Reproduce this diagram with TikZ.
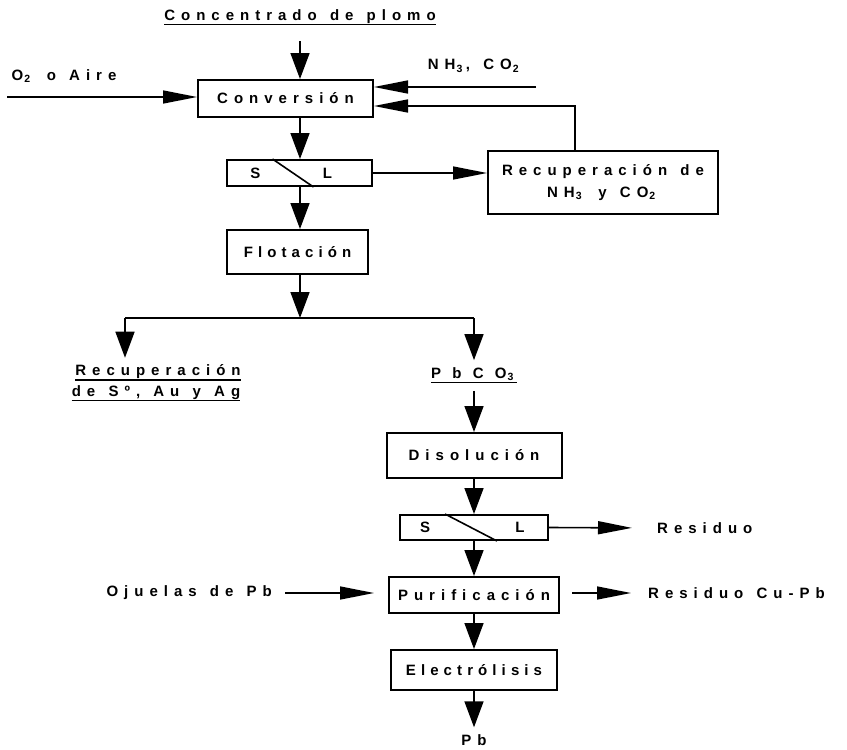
\documentclass[tikz,border=0pt]{standalone}
\usepackage{fontspec}
\setmainfont{Liberation Sans}[LetterSpace=40, WordSpace=1.3]
\usetikzlibrary{arrows.meta}
\newcommand{\ind}[1]{\kern1pt\textsubscript{#1}\kern3pt\relax}
\newcommand{\esp}[2]{{\addfontfeature{LetterSpace=#1}#2}}

\begin{document}
\begin{tikzpicture}
    [x=1pt, y=-1pt,
    caja/.style={draw=black, line width=2pt, inner sep=0pt},
    rotulo/.style={inner sep=0pt},
    flecha/.style={-{Triangle[length=26pt,width=19pt]}, line width=1.6pt},
    flechah/.style={-{Triangle[length=34pt,width=13pt]}, line width=1.6pt},
    linea/.style={line width=1.6pt},
    subr/.style={line width=1.2pt},
    every node/.style={font=\fontsize{15}{18}\selectfont\bfseries}]
    \useasboundingbox (0,0) rectangle (847,750);
    % parte alta
    \node[rotulo] (tit) at (300,17) {Concentrado de plomo};
    \draw[subr] ([yshift=-4pt]tit.base west) -- ([yshift=-4pt]tit.base east);
    \node[caja, minimum width=175pt, minimum height=37pt] (conv) at (285.5,98.5) {Conversión};
    \node[rotulo] (oxi) at (64,76) {O\ind{2} o Aire};
    \node[rotulo] (nh) at (475,66) {NH\ind{3}, CO\ind{2}};
    \coordinate (aire) at (7,97);
    \coordinate (amon) at (536,87);
    \coordinate (retorno) at (575,106);
    \node[caja, minimum width=145pt, minimum height=26pt] (sl1) at (299.5,173) {};
    \node[rotulo] (s1) at ([xshift=-44pt]sl1.center) {S};
    \node[rotulo] (l1) at ([xshift=28pt]sl1.center) {L};
    \draw[line width=1.6pt] ([xshift=-27pt]sl1.north) -- ([xshift=14pt]sl1.south);
    \node[caja, anchor=north west, minimum height=63pt, inner xsep=14pt, align=center,
        font=\fontsize{15}{22}\selectfont\bfseries] (rec) at (487,150) {Recuperación de\\NH\ind{3} y CO\ind{2}};
    \node[caja, minimum width=141pt, minimum height=44pt] (flot) at (297.5,252) {\esp{34}{Flotación}};
    \draw[flecha, shorten <=17pt] (tit.south) -- (conv.north -| tit);
    \draw[flechah] (aire) -- (aire -| conv.west);
    \draw[flechah] (amon) -- (amon -| conv.east);
    \draw[flechah] (retorno |- rec.north) -- (retorno) -- (retorno -| conv.east);
    \draw[flecha] (conv.south -| tit) -- (sl1.north -| tit);
    \draw[flechah] (sl1.east) -- (sl1.east -| rec.west);
    \draw[flecha] (sl1.south -| tit) -- (flot.north -| tit);
    % ramas
    \coordinate (rama) at (300,318);
    \coordinate (ramai) at (125,318);
    \coordinate (ramad) at (474,318);
    \draw[flecha] (flot.south -| tit) -- (rama);
    \draw[linea] (ramai) -- (ramad);
    \node[rotulo] (reca) at (158,372) {Recuperación};
    \node[rotulo] (recb) at (156,393) {de Sº, Au y Ag};
    \draw[subr] ([yshift=-4pt]reca.base west) -- ([yshift=-4pt]reca.base east);
    \draw[subr] ([yshift=-4pt]recb.base west) -- ([yshift=-4pt]recb.base east);
    \node[rotulo] (pbco) at (474,374) {\esp{75}{PbCO\ind{3}}};
    \draw[subr] ([yshift=-4pt]pbco.base west) -- ([yshift=-4pt]pbco.base east);
    \draw[flecha, shorten >=7pt] (ramai) -- (ramai |- reca.north);
    \draw[flecha, shorten >=7pt] (ramad) -- (pbco.north);
    % parte baja
    \node[caja, minimum width=175pt, minimum height=45pt] (dis) at (474,455.5) {Disolución};
    \node[caja, minimum width=148pt, minimum height=25pt] (sl2) at (474,527.5) {};
    \node[rotulo] (s2) at ([xshift=-49pt]sl2.center) {S};
    \node[rotulo] (l2) at ([xshift=46pt]sl2.center) {L};
    \draw[line width=1.6pt] ([xshift=-29pt]sl2.north) -- ([xshift=23pt]sl2.south);
    \node[rotulo, anchor=west] (resid) at (657,528) {Residuo};
    \node[caja, minimum width=170pt, minimum height=36pt] (pur) at (474,595) {Purificación};
    \node[rotulo, anchor=east] (oju) at (272,593) {Ojuelas de Pb};
    \node[rotulo, anchor=west] (cupb) at (648,593) {Residuo Cu-Pb};
    \node[caja, minimum width=166pt, minimum height=40pt] (ele) at (474,670) {\esp{34}{Electrólisis}};
    \node[rotulo] (pb) at (474,740) {Pb};
    \draw[flecha, shorten <=10pt] (pbco.south) -- (dis.north);
    \draw[flecha] (dis.south) -- (sl2.north);
    \draw[flechah, shorten >=25pt] (sl2.east) -- (resid.west);
    \draw[flecha] (sl2.south) -- (pur.north);
    \draw[flechah, shorten <=13pt, shorten >=14pt] (oju.east) -- (oju.east -| pur.west);
    \draw[flechah, shorten <=12pt, shorten >=17pt] (pur.east |- cupb.west) -- (cupb.west);
    \draw[flecha] (pur.south) -- (ele.north);
    \draw[flecha, shorten >=7pt] (ele.south) -- (pb.north);
\end{tikzpicture}
\end{document}
